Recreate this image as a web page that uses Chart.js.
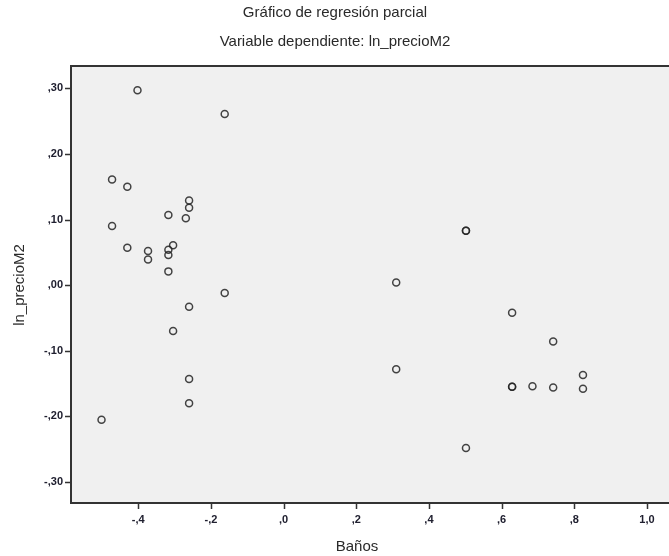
<!DOCTYPE html>
<html>
<head>
<meta charset="utf-8">
<script src="https://cdn.jsdelivr.net/npm/chart.js@4/dist/chart.umd.min.js"></script>
<style>
  html, body { margin: 0; padding: 0; background: #fff; }
  #wrap { width: 669px; height: 556px; }
</style>
</head>
<body>
<div id="wrap"><canvas id="partialPlot" width="669" height="556"></canvas></div>
<script>
// Baños (residual) vs ln_precioM2 (residual)
const banos = [
  -0.402, -0.162, -0.472, -0.430, -0.260, -0.260, -0.317, -0.269, -0.472, -0.430,
  -0.373, -0.373, -0.304, -0.317, -0.317, -0.317, -0.162, -0.260, -0.304, -0.260,
  -0.260, -0.501, 0.310, 0.310, 0.502, 0.502, 0.502, 0.629, 0.629, 0.629,
  0.685, 0.742, 0.742, 0.824, 0.824
]
const lnPrecio = [
  0.297, 0.261, 0.161, 0.150, 0.129, 0.118, 0.107, 0.102, 0.090, 0.057,
  0.052, 0.039, 0.061, 0.054, 0.046, 0.021, -0.012, -0.033, -0.070, -0.143,
  -0.180, -0.205, 0.004, -0.128, 0.083, 0.083, -0.248, -0.042, -0.155, -0.155,
  -0.154, -0.086, -0.156, -0.137, -0.158
]

const titleLines = ['Gráfico de regresión parcial', 'Variable dependiente: ln_precioM2']
const xTitle = 'Baños'
const yTitle = 'ln_precioM2'

// ",30" / "-,10" / "1,0" style labels
function spssLabel(v, digits) {
  let s = Number(v).toFixed(digits).replace('.', ',')
  return s.replace(/^(-?)0,/, '$1,')
}

const frameColor = '#333333'
const textFont = '15px "Liberation Sans", Arial, sans-serif'

const decorations = {
  id: 'decorations',
  beforeDraw(chart) {
    const { ctx, chartArea: a } = chart
    ctx.save()
    ctx.fillStyle = '#f0f0f0'
    ctx.fillRect(a.left, a.top, chart.width - a.left, a.bottom - a.top)
    ctx.restore()
  },
  afterDraw(chart) {
    const { ctx, chartArea: a, scales } = chart
    ctx.save()
    ctx.strokeStyle = frameColor
    ctx.lineWidth = 2
    // frame: top, left, bottom (right edge runs off the canvas)
    ctx.beginPath()
    ctx.moveTo(chart.width + 2, a.top)
    ctx.lineTo(a.left, a.top)
    ctx.lineTo(a.left, a.bottom)
    ctx.lineTo(chart.width + 2, a.bottom)
    ctx.stroke()

    // outward tick marks
    ctx.lineWidth = 1.5
    ctx.beginPath()
    scales.x.ticks.forEach((t) => {
      const px = Math.round(scales.x.getPixelForValue(t.value)) + 0.5
      ctx.moveTo(px, a.bottom)
      ctx.lineTo(px, a.bottom + 6)
    })
    scales.y.ticks.forEach((t) => {
      const py = Math.round(scales.y.getPixelForValue(t.value)) + 0.5
      ctx.moveTo(a.left, py)
      ctx.lineTo(a.left - 6, py)
    })
    ctx.stroke()

    ctx.fillStyle = '#2a2a2a'
    ctx.textAlign = 'center'
    ctx.textBaseline = 'middle'
    ctx.font = textFont
    ctx.fillText(titleLines[0], 335, 13)
    ctx.fillText(titleLines[1], 335, 42)
    ctx.fillText(xTitle, 357, 547)
    ctx.translate(20, 285)
    ctx.rotate(-Math.PI / 2)
    ctx.fillText(yTitle, 0, 0)
    ctx.restore()
  }
}

const points = banos.map((x, i) => ({ x: x, y: lnPrecio[i] }))

const tickFont = { family: '"Liberation Sans", Arial, sans-serif', size: 11, weight: 'bold' }

new Chart(document.getElementById('partialPlot'), {
  type: 'scatter',
  data: {
    datasets: [{
      data: points,
      pointStyle: 'circle',
      pointRadius: 3.5,
      pointHoverRadius: 3.5,
      pointBorderWidth: 1.5,
      pointBorderColor: 'rgba(35, 35, 35, 0.85)',
      pointBackgroundColor: 'rgba(0, 0, 0, 0)'
    }]
  },
  options: {
    responsive: false,
    animation: false,
    layout: { padding: { top: 66, right: 0, bottom: 0, left: 0 } },
    plugins: {
      legend: { display: false },
      tooltip: { enabled: false }
    },
    scales: {
      x: {
        type: 'linear',
        min: -0.585,
        max: 1.047,
        afterFit: (s) => { s.height = 53; s.paddingRight = 0; s.paddingLeft = 0 },
        border: { display: false },
        grid: { display: false, drawTicks: true, tickLength: 6 },
        ticks: {
          stepSize: 0.2,
          includeBounds: false,
          padding: 4,
          color: '#202030',
          font: tickFont,
          callback: (v) => spssLabel(v, 1)
        }
      },
      y: {
        type: 'linear',
        min: -0.332,
        max: 0.334,
        afterFit: (s) => { s.width = 71 },
        border: { display: false },
        grid: { display: false, drawTicks: true, tickLength: 6 },
        ticks: {
          stepSize: 0.1,
          includeBounds: false,
          padding: 2,
          color: '#202030',
          font: tickFont,
          callback: (v) => spssLabel(v, 2)
        }
      }
    }
  },
  plugins: [decorations]
})
</script>
</body>
</html>
